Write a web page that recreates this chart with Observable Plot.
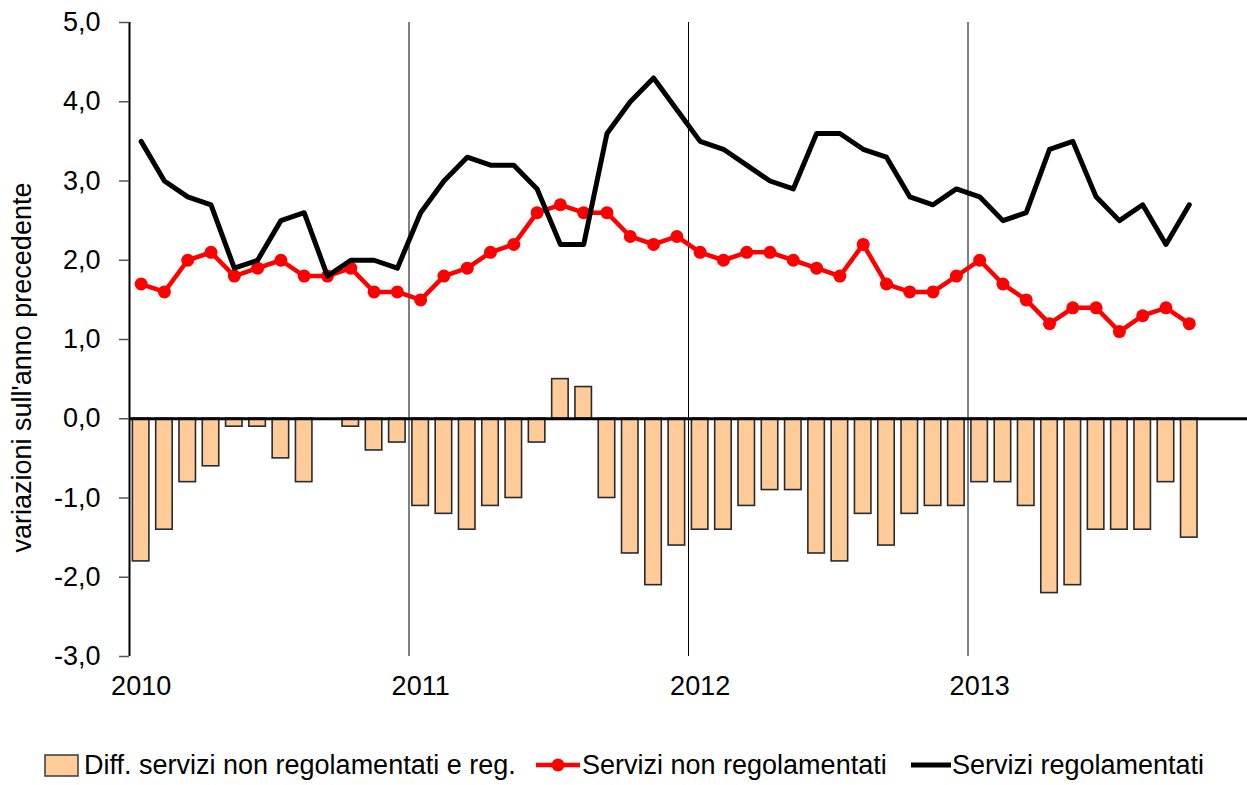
<!DOCTYPE html>
<html>
<head>
<meta charset="utf-8">
<script src="https://cdn.jsdelivr.net/npm/d3@7"></script>
<script src="https://cdn.jsdelivr.net/npm/@observablehq/plot@0.6"></script>
<style>
  html, body { margin: 0; padding: 0; background: #fff; }
  body { width: 1247px; height: 785px; overflow: hidden; font-family: "Liberation Sans", Arial, sans-serif; }
  #chart { position: absolute; left: 0; top: 0; }
  #legend { position: absolute; left: 0; top: 745px; width: 1247px; height: 40px; font-size: 27px; color: #000; }
  #legend .item { position: absolute; top: 0; height: 40px; display: flex; align-items: center; white-space: nowrap; }
</style>
</head>
<body>
<div id="chart"></div>
<div id="legend"></div>
<script>
const months = [
  "2010-01","2010-02","2010-03","2010-04","2010-05","2010-06","2010-07","2010-08","2010-09","2010-10","2010-11","2010-12",
  "2011-01","2011-02","2011-03","2011-04","2011-05","2011-06","2011-07","2011-08","2011-09","2011-10","2011-11","2011-12",
  "2012-01","2012-02","2012-03","2012-04","2012-05","2012-06","2012-07","2012-08","2012-09","2012-10","2012-11","2012-12",
  "2013-01","2013-02","2013-03","2013-04","2013-05","2013-06","2013-07","2013-08","2013-09","2013-10"
];
const yearLabels = ["2010", "2011", "2012", "2013"];
const yTicks = [-3, -2, -1, 0, 1, 2, 3, 4, 5];

const serviziRegolamentati = [
  3.5, 3.0, 2.8, 2.7, 1.9, 2.0, 2.5, 2.6, 1.8, 2.0, 2.0, 1.9,
  2.6, 3.0, 3.3, 3.2, 3.2, 2.9, 2.2, 2.2, 3.6, 4.0, 4.3, 3.9,
  3.5, 3.4, 3.2, 3.0, 2.9, 3.6, 3.6, 3.4, 3.3, 2.8, 2.7, 2.9,
  2.8, 2.5, 2.6, 3.4, 3.5, 2.8, 2.5, 2.7, 2.2, 2.7
];
const serviziNonRegolamentati = [
  1.7, 1.6, 2.0, 2.1, 1.8, 1.9, 2.0, 1.8, 1.8, 1.9, 1.6, 1.6,
  1.5, 1.8, 1.9, 2.1, 2.2, 2.6, 2.7, 2.6, 2.6, 2.3, 2.2, 2.3,
  2.1, 2.0, 2.1, 2.1, 2.0, 1.9, 1.8, 2.2, 1.7, 1.6, 1.6, 1.8,
  2.0, 1.7, 1.5, 1.2, 1.4, 1.4, 1.1, 1.3, 1.4, 1.2
];
const differenza = [
  -1.8, -1.4, -0.8, -0.6, -0.1, -0.1, -0.5, -0.8, 0.0, -0.1, -0.4, -0.3,
  -1.1, -1.2, -1.4, -1.1, -1.0, -0.3, 0.5, 0.4, -1.0, -1.7, -2.1, -1.6,
  -1.4, -1.4, -1.1, -0.9, -0.9, -1.7, -1.8, -1.2, -1.6, -1.2, -1.1, -1.1,
  -0.8, -0.8, -1.1, -2.2, -2.1, -1.4, -1.4, -1.4, -0.8, -1.5
];

const seriesNames = ["Diff. servizi non regolamentati e reg.", "Servizi non regolamentati", "Servizi regolamentati"];
const yTitle = "variazioni sull'anno precedente";

// month index for each category (January 2010 = 0)
const monthIndex = m => (+m.slice(0, 4) - 2010) * 12 + (+m.slice(5, 7) - 1);
const table = months.map((m, i) => ({
  m, i: monthIndex(m),
  reg: serviziRegolamentati[i],
  nonReg: serviziNonRegolamentati[i],
  diff: differenza[i]
}));
const yearStarts = yearLabels.map(y => monthIndex(y + "-01"));
const yearLabelPos = yearStarts.map(s => s + 0.5);
const fmt = d => d.toFixed(1).replace(".", ",");

const chart = Plot.plot({
  width: 1247,
  height: 745,
  marginLeft: 129,
  marginRight: 0,
  marginTop: 22,
  marginBottom: 89,
  style: { fontFamily: "Liberation Sans, Arial, sans-serif", fontSize: "27px", color: "#000", background: "#fff" },
  x: { type: "linear", domain: [0, 48], axis: null },
  y: { domain: [-3, 5], axis: null },
  marks: [
    Plot.rectY(table, {
      x1: d => d.i, x2: d => d.i + 1, y1: 0, y2: "diff",
      insetLeft: 3.4, insetRight: 3.4,
      fill: "#FFCC99", stroke: "#2a2a2a", strokeWidth: 1.6
    }),
    Plot.ruleX(yearStarts.slice(1), { y1: -3, y2: 5, stroke: "#000", strokeWidth: 1 }),
    Plot.ruleY([0], { stroke: "#000", strokeWidth: 3 }),
    Plot.ruleX([0], { y1: -3, y2: 5, stroke: "#000", strokeWidth: 2 }),
    Plot.axisY(yTicks, {
      anchor: "left", tickSize: 10, tickPadding: 19, tickFormat: fmt,
      fontSize: 27, stroke: "#555", strokeWidth: 1.5, fill: "#000", label: null
    }),
    Plot.axisX(yearLabelPos, {
      anchor: "bottom", tickSize: 0, tickPadding: 19,
      tickFormat: (d, k) => yearLabels[yearLabelPos.indexOf(d)],
      fontSize: 27, fill: "#000", label: null
    }),
    Plot.text([yTitle], {
      frameAnchor: "left", textAnchor: "middle", rotate: -90, dx: -107, dy: 28,
      fontSize: 27, fill: "#000", text: d => d
    }),
    Plot.line(table, { x: d => d.i + 0.5, y: "nonReg", stroke: "#FF0000", strokeWidth: 4.5 }),
    Plot.dot(table, { x: d => d.i + 0.5, y: "nonReg", r: 6.5, fill: "#FF0000", stroke: "none" }),
    Plot.line(table, { x: d => d.i + 0.5, y: "reg", stroke: "#000", strokeWidth: 5 })
  ]
});
document.getElementById("chart").appendChild(chart);

// legend
const legend = document.getElementById("legend");
const items = [
  { left: 44, text: seriesNames[0], sym: '<svg width="36" height="24"><rect x="1" y="2" width="33" height="21" fill="#FFCC99" stroke="#444" stroke-width="1.6"/></svg>', gap: 4 },
  { left: 536, text: seriesNames[1], sym: '<svg width="44" height="20"><line x1="0" y1="10" x2="44" y2="10" stroke="#FF0000" stroke-width="4.5"/><circle cx="22" cy="10" r="6.5" fill="#FF0000"/></svg>', gap: 2 },
  { left: 911, text: seriesNames[2], sym: '<svg width="40" height="20"><line x1="0" y1="10" x2="40" y2="10" stroke="#000" stroke-width="5"/></svg>', gap: 1 }
];
for (const it of items) {
  const div = document.createElement("div");
  div.className = "item";
  div.style.left = it.left + "px";
  div.innerHTML = it.sym + '<span style="margin-left:' + it.gap + 'px">' + it.text + '</span>';
  legend.appendChild(div);
}
</script>
</body>
</html>
